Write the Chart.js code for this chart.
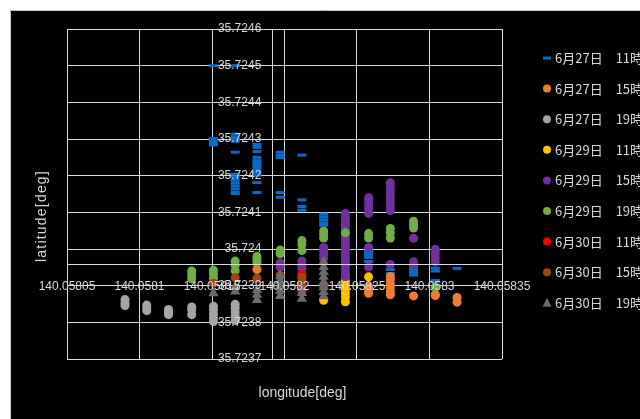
<!DOCTYPE html>
<html>
<head>
<meta charset="utf-8">
<script src="https://cdn.jsdelivr.net/npm/chart.js@4/dist/chart.umd.min.js"></script>
<style>
  html, body { margin: 0; padding: 0; background: #ffffff; }
  #wrap { width: 640px; height: 419px; position: relative; }
  canvas { display: block; }
</style>
</head>
<body>
<div id="wrap"><canvas id="chart" width="640" height="419"></canvas></div>
<script>
// Axis ticks
const xTickValues = [140.05805, 140.0581, 140.05815, 140.0582, 140.05825, 140.0583, 140.05835];
const xTickLabels = ['140.05805', '140.0581', '140.05815', '140.0582', '140.05825', '140.0583', '140.05835'];
const yTickValues = [35.7237, 35.7238, 35.7239, 35.724, 35.7241, 35.7242, 35.7243, 35.7244, 35.7245, 35.7246];
const yTickLabels = ['35.7237', '35.7238', '35.7239', '35.724', '35.7241', '35.7242', '35.7243', '35.7244', '35.7245', '35.7246'];
// Where the two axes cross
const xAxisCrossLat = 35.723959;
const yAxisCrossLon = 140.058192;
// Latitude labels sit a little to the left of the vertical axis
const yLabelAnchorLon = 140.058184;

// Series names (legend order)
const seriesNames = [
  '6月27日　11時', '6月27日　15時', '6月27日　19時',
  '6月29日　11時', '6月29日　15時', '6月29日　19時',
  '6月30日　11時', '6月30日　15時', '6月30日　19時'
];

// 6/27 11:00
const lon_0627_11 = [140.058151, 140.058151, 140.058151, 140.058151, 140.058151,
  140.058166, 140.058166, 140.058166, 140.058166, 140.058166, 140.058166, 140.058166, 140.058166, 140.058166, 140.058166, 140.058166, 140.058166, 140.058166, 140.058166,
  140.058181, 140.058181, 140.058181, 140.058181, 140.058181, 140.058181, 140.058181, 140.058181, 140.058181, 140.058181, 140.058181, 140.058181,
  140.058197, 140.058197, 140.058197, 140.058197, 140.058197,
  140.058212, 140.058212, 140.058212, 140.058212,
  140.058227, 140.058227, 140.058227, 140.058227, 140.058227,
  140.058258, 140.058258, 140.058258, 140.058258,
  140.058273, 140.058273,
  140.058289, 140.058289, 140.058289, 140.058289,
  140.058304, 140.058304, 140.058304, 140.058304,
  140.058319];
const lat_0627_11 = [35.7245, 35.724301, 35.724295, 35.724288, 35.724284,
  35.7245, 35.724313, 35.724305, 35.724299, 35.724294, 35.724264, 35.724204, 35.724196, 35.724188, 35.72418, 35.724172, 35.724164, 35.724155, 35.724151,
  35.724285, 35.724277, 35.724266, 35.72425, 35.724241, 35.724233, 35.724225, 35.724217, 35.724209, 35.724201, 35.724181, 35.724154,
  35.724264, 35.724256, 35.724249, 35.724154, 35.724141,
  35.724256, 35.724134, 35.724116, 35.724106,
  35.724095, 35.724087, 35.724079, 35.724071, 35.724065,
  35.723993, 35.723985, 35.723977, 35.723966,
  35.723944, 35.723933,
  35.723952, 35.723944, 35.723936, 35.723929,
  35.723948, 35.72394, 35.723914, 35.723911,
  35.723947];

// 6/27 15:00
const lon_0627_15 = [140.058181,
  140.058258, 140.058258, 140.058258,
  140.058273, 140.058273, 140.058273, 140.058273, 140.058273, 140.058273,
  140.058289,
  140.058304, 140.058304,
  140.058319, 140.058319];
const lat_0627_15 = [35.723944,
  35.723898, 35.723888, 35.723879,
  35.723925, 35.723916, 35.723905, 35.723894, 35.723883, 35.723875,
  35.723872,
  35.723876, 35.723873,
  35.723868, 35.723855];

// 6/27 19:00
const lon_0627_19 = [140.05809, 140.05809, 140.05809,
  140.058105, 140.058105, 140.058105,
  140.05812, 140.05812, 140.05812,
  140.058136, 140.058136, 140.058136,
  140.058151, 140.058151, 140.058151, 140.058151, 140.058151,
  140.058166, 140.058166, 140.058166, 140.058166, 140.058166];
const lat_0627_19 = [35.723862, 35.723853, 35.723846,
  35.723847, 35.723839, 35.723832,
  35.723835, 35.723828, 35.723821,
  35.723842, 35.723834, 35.723821,
  35.723844, 35.723834, 35.723823, 35.723812, 35.723802,
  35.723849, 35.723839, 35.723828, 35.723817, 35.723805];

// 6/29 11:00
const lon_0629_11 = [140.058227,
  140.058242, 140.058242, 140.058242, 140.058242, 140.058242, 140.058242,
  140.058258];
const lat_0629_11 = [35.72386,
  35.723913, 35.723902, 35.723891, 35.72388, 35.723869, 35.723856,
  35.723924];

// 6/29 15:00
const lon_0629_15 = [140.058197, 140.058197,
  140.058212, 140.058212, 140.058212,
  140.058227, 140.058227, 140.058227, 140.058227,
  140.058242, 140.058242, 140.058242, 140.058242, 140.058242, 140.058242, 140.058242, 140.058242, 140.058242, 140.058242, 140.058242, 140.058242, 140.058242, 140.058242, 140.058242, 140.058242, 140.058242,
  140.058258, 140.058258, 140.058258, 140.058258, 140.058258, 140.058258, 140.058258,
  140.058273, 140.058273, 140.058273, 140.058273, 140.058273, 140.058273, 140.058273, 140.058273, 140.058273,
  140.058289, 140.058289, 140.058289,
  140.058304, 140.058304, 140.058304, 140.058304];
const lat_0629_15 = [35.723962, 35.723951,
  35.723967, 35.723956, 35.723947,
  35.724004, 35.723995, 35.723984, 35.723974,
  35.724097, 35.724086, 35.724075, 35.724064, 35.724053, 35.724042, 35.724031, 35.72402, 35.72401, 35.723999, 35.723988, 35.723977, 35.723966, 35.723955, 35.723944, 35.723933, 35.723924,
  35.72414, 35.724131, 35.72412, 35.724109, 35.724097, 35.724004, 35.723951,
  35.724181, 35.72417, 35.72416, 35.724149, 35.724138, 35.724127, 35.724116, 35.724105, 35.723958,
  35.724029, 35.723965, 35.723957,
  35.723999, 35.723988, 35.723977, 35.723965];

// 6/29 19:00
const lon_0629_19 = [140.058136, 140.058136, 140.058136,
  140.058151, 140.058151, 140.058151,
  140.058166, 140.058166, 140.058166,
  140.058181, 140.058181, 140.058181,
  140.058197, 140.058197,
  140.058212, 140.058212, 140.058212,
  140.058227, 140.058227, 140.058227,
  140.058242,
  140.058258, 140.058258,
  140.058273, 140.058273, 140.058273,
  140.058289, 140.058289, 140.058289,
  140.058304];
const lat_0629_19 = [35.72394, 35.723929, 35.723919,
  35.723942, 35.723932, 35.72392,
  35.723967, 35.723956, 35.723941,
  35.72398, 35.723973, 35.723964,
  35.723997, 35.723987,
  35.724023, 35.724012, 35.723996,
  35.724049, 35.72404, 35.72403,
  35.724044,
  35.724042, 35.72403,
  35.724056, 35.724044, 35.72403,
  35.724076, 35.724067, 35.724057,
  35.723896];

// 6/30 11:00
const lon_0630_11 = [140.058212, 140.058212, 140.058212, 140.058212];
const lat_0630_11 = [35.723931, 35.723922, 35.723902, 35.723883];

// 6/30 15:00
const lon_0630_15 = [140.058151, 140.058166, 140.058181, 140.058197, 140.058212, 140.058212, 140.058227];
const lat_0630_15 = [35.723907, 35.723922, 35.72392, 35.723928, 35.723922, 35.72391, 35.723898];

// 6/30 19:00
const lon_0630_19 = [140.058151,
  140.058166, 140.058166,
  140.058181, 140.058181, 140.058181,
  140.058197, 140.058197, 140.058197, 140.058197, 140.058197,
  140.058212, 140.058212, 140.058212,
  140.058227, 140.058227, 140.058227, 140.058227, 140.058227, 140.058227, 140.058227, 140.058227];
const lat_0630_19 = [35.723879,
  35.723896, 35.723884,
  35.723888, 35.723875, 35.723861,
  35.723926, 35.723913, 35.723899, 35.723886, 35.723872,
  35.723894, 35.72388, 35.723864,
  35.723965, 35.723951, 35.723937, 35.723924, 35.72391, 35.723896, 35.723883, 35.723871];

const seriesLon = [lon_0627_11, lon_0627_15, lon_0627_19, lon_0629_11, lon_0629_15, lon_0629_19, lon_0630_11, lon_0630_15, lon_0630_19];
const seriesLat = [lat_0627_11, lat_0627_15, lat_0627_19, lat_0629_11, lat_0629_15, lat_0629_19, lat_0630_11, lat_0630_15, lat_0630_19];

// Marker styles
const seriesColors = ['#0a6acb', '#ed7d31', '#a5a5a5', '#ffc000', '#7030a0', '#70ad47', '#ff0000', '#9e480e', '#6b6b6b'];
const seriesShapes = ['line', 'circle', 'circle', 'circle', 'circle', 'circle', 'circle', 'circle', 'triangle'];

const TEXT_COLOR = '#d9d9d9';
const GRID_COLOR = '#d9d9d9';
const LATIN_FONT = "'Liberation Sans', Arial, sans-serif";
const CJK_FONT = "'Noto Sans CJK JP', 'Noto Sans', sans-serif";

function markerOptions(shape, color) {
  if (shape === 'line') {
    return { pointStyle: 'line', pointRadius: 4.5, pointBorderWidth: 3, pointBorderColor: color, pointBackgroundColor: color };
  }
  if (shape === 'triangle') {
    return { pointStyle: 'triangle', pointRadius: 6, pointBorderWidth: 0, pointBorderColor: color, pointBackgroundColor: color };
  }
  return { pointStyle: 'circle', pointRadius: 4.5, pointBorderWidth: 0, pointBorderColor: color, pointBackgroundColor: color };
}

const datasets = seriesNames.map((name, i) => Object.assign({
  label: name,
  data: seriesLon[i].map((lon, k) => ({ x: lon, y: seriesLat[i][k] })),
  showLine: false,
  pointHoverRadius: 0,
  // later series are painted on top of earlier ones
  order: seriesNames.length - i
}, markerOptions(seriesShapes[i], seriesColors[i])));

// Dark panel behind the chart
const panelPlugin = {
  id: 'panel',
  beforeDraw(chart) {
    const ctx = chart.ctx;
    ctx.save();
    ctx.fillStyle = '#ffffff';
    ctx.fillRect(0, 0, chart.width, chart.height);
    ctx.fillStyle = '#000000';
    ctx.fillRect(10, 10, chart.width - 10, chart.height - 10);
    ctx.strokeStyle = '#c8c8c8';
    ctx.lineWidth = 1;
    ctx.beginPath();
    ctx.moveTo(10.5, chart.height);
    ctx.lineTo(10.5, 10.5);
    ctx.lineTo(chart.width, 10.5);
    ctx.stroke();
    ctx.restore();
  }
};

function drawMarker(ctx, shape, color, x, y) {
  ctx.fillStyle = color;
  ctx.strokeStyle = color;
  if (shape === 'line') {
    ctx.lineWidth = 3;
    ctx.beginPath();
    ctx.moveTo(x - 4, y);
    ctx.lineTo(x + 4, y);
    ctx.stroke();
  } else if (shape === 'triangle') {
    ctx.beginPath();
    ctx.moveTo(x, y - 5);
    ctx.lineTo(x + 4.5, y + 4);
    ctx.lineTo(x - 4.5, y + 4);
    ctx.closePath();
    ctx.fill();
  } else {
    ctx.beginPath();
    ctx.arc(x, y, 4, 0, Math.PI * 2);
    ctx.fill();
  }
}

// Axis titles and the legend on the right
const decorPlugin = {
  id: 'decor',
  afterDraw(chart) {
    const ctx = chart.ctx;
    const area = chart.chartArea;
    ctx.save();
    ctx.fillStyle = TEXT_COLOR;
    ctx.font = '14px ' + LATIN_FONT;
    ctx.textAlign = 'center';
    ctx.textBaseline = 'middle';
    ctx.fillText('longitude[deg]', area.left + (area.right - area.left) / 2 + 18, area.bottom + 34);
    ctx.save();
    ctx.translate(area.left - 25, area.top + (area.bottom - area.top) / 2 + 22);
    ctx.rotate(-Math.PI / 2);
    if ('letterSpacing' in ctx) ctx.letterSpacing = '1.2px';
    ctx.fillText('latitude[deg]', 0, 0);
    ctx.restore();

    const lx = area.right + 45;
    const ly = area.top + 29;
    const step = 30.6;
    chart.data.datasets.forEach((ds, i) => {
      const y = ly + i * step;
      drawMarker(ctx, seriesShapes[i], seriesColors[i], lx, y);
      ctx.fillStyle = TEXT_COLOR;
      ctx.font = '13px ' + CJK_FONT;
      ctx.textAlign = 'left';
      ctx.textBaseline = 'middle';
      ctx.fillText(ds.label, lx + 8, y);
    });
    ctx.restore();
  }
};

const tickFont = { family: LATIN_FONT, size: 12 };

new Chart(document.getElementById('chart'), {
  type: 'scatter',
  data: { datasets },
  plugins: [panelPlugin, decorPlugin],
  options: {
    responsive: false,
    animation: false,
    devicePixelRatio: 1,
    layout: { padding: { left: 67, top: 29, right: 138, bottom: 60 } },
    plugins: { legend: { display: false }, tooltip: { enabled: false } },
    scales: {
      // longitude: grid behind the markers, axis line and labels above them
      x: {
        type: 'linear',
        min: xTickValues[0],
        max: xTickValues[xTickValues.length - 1],
        position: { y: xAxisCrossLat },
        afterBuildTicks: (s) => { s.ticks = xTickValues.map(v => ({ value: v })); },
        ticks: {
          callback: (v, i) => xTickLabels[i],
          color: TEXT_COLOR,
          font: tickFont,
          padding: 15,
          maxRotation: 0,
          autoSkip: false,
          z: 2
        },
        grid: { color: GRID_COLOR, lineWidth: 1, drawTicks: false, z: -1 },
        border: { display: true, color: GRID_COLOR, width: 1, z: 1 }
      },
      // latitude: grid and axis line
      y: {
        type: 'linear',
        min: yTickValues[0],
        max: yTickValues[yTickValues.length - 1],
        position: { x: yAxisCrossLon },
        afterBuildTicks: (s) => { s.ticks = yTickValues.map(v => ({ value: v })); },
        ticks: { display: false },
        grid: { color: GRID_COLOR, lineWidth: 1, drawTicks: false, z: -1 },
        border: { display: true, color: GRID_COLOR, width: 1, z: 1 }
      },
      // latitude tick labels
      yLabels: {
        type: 'linear',
        axis: 'y',
        min: yTickValues[0],
        max: yTickValues[yTickValues.length - 1],
        position: { x: yLabelAnchorLon },
        afterBuildTicks: (s) => { s.ticks = yTickValues.map(v => ({ value: v })); },
        ticks: {
          callback: (v, i) => yTickLabels[i],
          color: TEXT_COLOR,
          font: tickFont,
          autoSkip: false,
          z: 2
        },
        grid: { display: false, drawTicks: false },
        border: { display: false }
      }
    }
  }
});
</script>
</body>
</html>
